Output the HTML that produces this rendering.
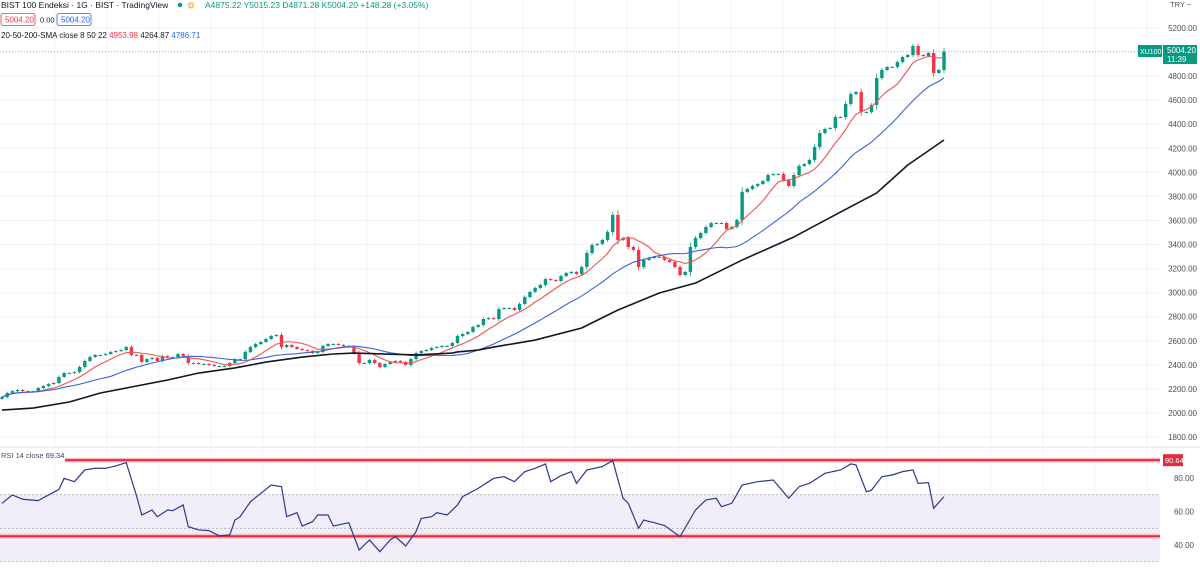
<!DOCTYPE html>
<html><head><meta charset="utf-8"><style>
body{margin:0;background:#fff;font-family:"Liberation Sans",sans-serif;}
svg text{font-family:"Liberation Sans",sans-serif;}
</style></head><body>
<svg id="c" width="1200" height="564" xmlns="http://www.w3.org/2000/svg"></svg>
<script>
const closes=[2132,2166,2182,2191,2182,2182,2182,2207,2224,2241,2249,2299,2332,2332,2340,2382,2432,2465,2482,2482,2490,2507,2515,2523,2548,2482,2482,2424,2448,2457,2432,2473,2465,2465,2490,2473,2415,2415,2407,2407,2399,2390,2390,2390,2415,2448,2448,2507,2548,2573,2590,2615,2640,2648,2548,2565,2548,2532,2523,2515,2498,2507,2557,2573,2573,2565,2557,2548,2498,2415,2415,2440,2415,2382,2407,2424,2432,2424,2399,2448,2498,2515,2523,2540,2548,2557,2557,2582,2640,2656,2673,2715,2731,2781,2789,2781,2864,2872,2872,2856,2906,2964,3006,3039,3064,3113,3105,3097,3138,3163,3172,3155,3213,3330,3396,3405,3438,3504,3646,3438,3454,3380,3355,3213,3272,3288,3297,3297,3272,3255,3213,3147,3172,3380,3454,3496,3546,3579,3579,3579,3529,3546,3604,3837,3862,3887,3903,3928,3978,3986,3986,3936,3887,3978,4053,4069,4103,4211,4327,4361,4369,4460,4460,4568,4651,4668,4502,4502,4560,4784,4851,4876,4876,4917,4959,4976,5050,4976,4967,4992,4826,4851,5004.2];
const priceTicks=[5200,5000,4800,4600,4400,4200,4000,3800,3600,3400,3200,3000,2800,2600,2400,2200,2000,1800];
const slowBars=[0,6,13,19,25,32,38,45,51,58,64,68,74,80,87,88,92,95,103,112,119,127,134,143,153,162,169,175,182];
const slowVals=[2024,2041,2091,2166,2216,2274,2332,2374,2423,2465,2490,2498,2490,2482,2498,2507,2523,2548,2606,2706,2856,2997,3080,3271,3463,3670,3829,4061,4269];
const rsiBars=[0,2,4,7,9,11,12,14,16,18,20,22,24,26,27,29,30,32,33,35,36,38,40,42,44,45,46,48,50,52,54,55,57,58,60,61,63,64,67,69,71,73,75,76,78,80,81,83,84,86,88,89,92,94,95,97,99,101,103,105,106,108,110,111,113,116,118,120,121,123,124,126,128,131,134,136,138,139,141,143,146,149,152,154,156,159,162,164,165,167,168,170,172,174,176,177,179,180,182];
const rsiVals=[64.9,69.9,67.3,66.5,69.9,73.2,79.8,77.8,84.8,85.8,85.8,87.2,89.2,69.3,57.9,60.9,56.9,60.9,60.5,63.9,50.9,49,48.6,45.4,46,54.9,56.9,65.9,70.8,75.8,74.8,56.9,59.3,51.3,53.9,57.9,57.9,51.3,53.3,37,43,36,43,45,39.4,48,55.9,56.9,59.3,57.9,63.9,68.9,73.8,77.8,79.8,80.8,77.8,83.8,85.8,88.4,77.8,81.4,83.8,76.8,84.8,86.8,90.4,67.9,64.9,50,54.9,53.3,51.6,45,60.9,66.9,67.9,62.9,64.9,75.8,77.8,78.8,67.9,74.8,76.8,82.8,84.8,88.4,87.8,71.8,72.8,80.8,81.8,83.8,84.8,76.8,77.2,61.9,68.9];
const rsiTicks=[80,60,40];
const rsiLevels=[90.64,45.2];
const maPeriods=[8,22];

const svg=document.getElementById('c');const NS='http://www.w3.org/2000/svg';
function mk(tag,attrs,parent){const e=document.createElementNS(NS,tag);for(const k in attrs)e.setAttribute(k,attrs[k]);(parent||svg).appendChild(e);return e;}
const N=closes.length, X0=2, X1=944;
const xs=i=>X0+i*(X1-X0)/(N-1);
const yp=p=>28+(5200-p)*0.1203;
const yr=r=>478+(80-r)*1.675;

const grid=mk('g',{});


priceTicks.forEach(p=>mk('line',{x1:0,x2:1160,y1:yp(p),y2:yp(p),stroke:'#f0f3fa'},grid));
for(let gx=55;gx<1160;gx+=52)mk('line',{x1:gx,x2:gx,y1:0,y2:564,stroke:'#f0f3fa'},grid);
mk('line',{x1:0,x2:1200,y1:447,y2:447,stroke:'#e0e3eb'});

priceTicks.forEach(p=>{const t=mk('text',{x:1197,y:yp(p)+3,'font-size':8,fill:'#4a4e59','text-anchor':'end'});t.textContent=p.toFixed(2);

});
const tr=mk('text',{x:1170,y:7,'font-size':7.5,fill:'#4a4e59'});tr.textContent='TRY ~';



mk('line',{x1:0,x2:1140,y1:yp(5004.2),y2:yp(5004.2),stroke:'#7fc8bb','stroke-dasharray':'1,2','stroke-width':0.8});

const cg=mk('g',{});


closes.forEach((c,i)=>{
  const o=i?closes[i-1]:c-15; const up=c>=o; const col=up?'#089981':'#f23645';
  const hi=Math.max(o,c)+6+Math.abs(c-o)*0.15, lo=Math.min(o,c)-6-Math.abs(c-o)*0.15;
  const x=xs(i);
  mk('line',{x1:x,x2:x,y1:yp(hi),y2:yp(lo),stroke:col,'stroke-width':0.8},cg);
  const top=yp(Math.max(o,c)), h=Math.max(1,yp(Math.min(o,c))-top);
  const r=mk('rect',{x:x-1.7,y:top,width:3.4,height:h,fill:col},cg);
  
  
});

function sma(n){return closes.map((_,i)=>{const s=closes.slice(Math.max(0,i-n+1),i+1);return s.reduce((a,b)=>a+b,0)/s.length;});}
const maCols=['#ef5350','#3d63dd'], maNames=['sma-8-line','sma-22-line'];
maPeriods.forEach((n,k)=>{const v=sma(n);const p=mk('polyline',{points:v.map((y,i)=>xs(i)+','+yp(y)).join(' '),fill:'none',stroke:maCols[k],'stroke-width':1.1});

});
const slow=mk('polyline',{points:slowBars.map((b,i)=>xs(b)+','+yp(slowVals[i])).join(' '),fill:'none',stroke:'#131722','stroke-width':1.6,'stroke-linejoin':'round'});



mk('rect',{x:0,y:yr(70),width:1160,height:yr(30)-yr(70),fill:'#f1eef9'});
[70,50,30].forEach(l=>mk('line',{x1:0,x2:1160,y1:yr(l),y2:yr(l),stroke:'#a0a3ab','stroke-dasharray':'2,2','stroke-width':0.8}));
rsiLevels.forEach((l,k)=>{mk('line',{x1:k?0:65,x2:1160,y1:yr(l),y2:yr(l),stroke:'#f7c2c8','stroke-width':5});
const ln=mk('line',{x1:k?0:65,x2:1160,y1:yr(l),y2:yr(l),stroke:'#e5293f','stroke-width':2});

});
mk('rect',{x:1163,y:yr(90.64)-6,width:20,height:12,fill:'#e5293f'});
const rlt=mk('text',{x:1165,y:yr(90.64)+3,'font-size':7.5,fill:'#fff'});rlt.textContent='90.64';


rsiTicks.forEach(r=>{const t=mk('text',{x:1194,y:yr(r)+3,'font-size':8,fill:'#4a4e59','text-anchor':'end'});t.textContent=r.toFixed(2);

});
const rp=mk('polyline',{points:rsiBars.map((b,i)=>xs(b)+','+yr(rsiVals[i])).join(' '),fill:'none',stroke:'#2a3a8c','stroke-width':1.2});


const rt=mk('text',{x:1,y:458,'font-size':7.5,fill:'#4a4e59'});rt.innerHTML='RSI 14 close <tspan fill="#2a3a8c">69.34</tspan>';



mk('rect',{x:1138,y:45,width:24,height:12,fill:'#089981'});
const sy=mk('text',{x:1140,y:54,'font-size':7,fill:'#fff'});sy.textContent='XU100';


mk('rect',{x:1163,y:45,width:34,height:19,fill:'#089981'});
const pt=mk('text',{x:1167,y:53,'font-size':8,fill:'#fff'});pt.textContent='5004.20';


const ct=mk('text',{x:1167,y:62,'font-size':8,fill:'#fff'});ct.textContent='11:39';



const h1=mk('text',{x:1,y:8,'font-size':8.5,fill:'#131722'});h1.textContent='BIST 100 Endeksi · 1G · BIST · TradingView';


mk('circle',{cx:180,cy:5,r:2.2,fill:'#089981'});mk('circle',{cx:191,cy:5,r:4,fill:'#fde6c8'});
const dd=mk('text',{x:188.5,y:8,'font-size':7,fill:'#f7a21b'});dd.textContent='D';
const oh=mk('text',{x:205,y:8,'font-size':8.5,fill:'#089981'});oh.textContent='A4875.22 Y5015.23 D4871.28 K5004.20 +148.28 (+3.05%)';


mk('rect',{x:1,y:13.5,width:34,height:12,fill:'#fff',stroke:'#f23645','stroke-width':0.8,rx:2});
const b1=mk('text',{x:5,y:22.5,'font-size':8,fill:'#f23645'});b1.textContent='5004.20';


const sp=mk('text',{x:40,y:22.5,'font-size':7.5,fill:'#131722'});sp.textContent='0.00';
mk('rect',{x:57,y:13.5,width:34,height:12,fill:'#fff',stroke:'#2962ff','stroke-width':0.8,rx:2});
const b2=mk('text',{x:61,y:22.5,'font-size':8,fill:'#2962ff'});b2.textContent='5004.20';


const ml=mk('text',{x:1,y:38,'font-size':8,fill:'#131722'});
ml.innerHTML='20-50-200-SMA close 8 50 22 <tspan fill="#f23645">4953.98</tspan> 4264.87 <tspan fill="#2962ff">4786.71</tspan>';


</script>
</body></html>
